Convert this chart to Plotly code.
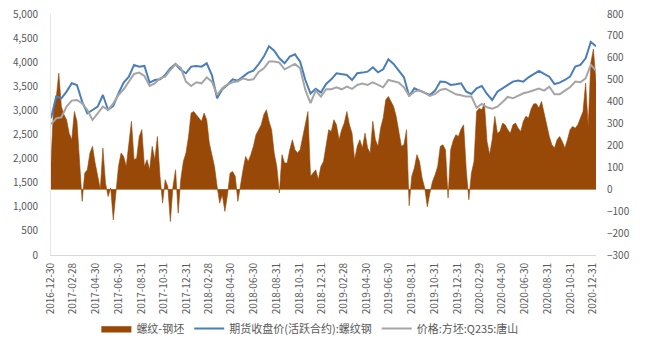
import pandas as pd
import plotly.graph_objects as go

# weekly dates for the spread series (螺纹-钢坯), right axis
spread_dates = pd.date_range("2016-12-30", periods=211, freq="7D")
spread = [
    120, 378, 416, 530, 378, 340, 317, 256, 226, 355, 310, 120, -55, 74, 89, 165, 196, 120, 59, 0,
    188, 28, -33, 6, -140, -17, 104, 165, 150, 104, 211, 310, 135, 142, 241, 272, 104, 135, 89, 196,
    135, 241, 59, -63, 44, 13, -147, 13, 89, -109, 44,
    127, 165, 241, 348, 355, 340, 325, 310, 348, 317, 211, 150, 104, 13, -63, -25, -101, -25, 74, 81,
    59, -55, 28, 89, 150, 127, 158, 196, 249, 272, 294, 340, 363, 310, 272, 165, 104, -17, 158, 120,
    120, 180, 226, 180, 165, 180, 241, 310, 355, 59, 74,
    89, 44, 104, 127, 203, 272, 264, 317, 294, 226, 272, 302, 355, 294, 256, 135, 196, 226, 188, 256,
    188, 165, 310, 226, 196, 279, 325, 409, 424, 401, 378, 333, 272, 196, 203, 272, -75, 59, 97, 158,
    127, 51, 6, -80, -17, 36, 66, 104, 196, 203, 180,
    -40, 180, 223, 249, 241, 275, 294, 89, -48, 74, 127, 355, 370, 363, 393, 218, 158, 226, 333, 256,
    264, 302, 294, 272, 256, 294, 302, 279, 264, 310, 333, 325, 366, 390, 390, 371, 401, 348, 287, 241,
    203, 188, 226, 241, 218, 188, 226, 272, 287, 279, 294, 325, 355, 485, 287, 576, 640, 490,
]

# bi-weekly dates for the two price lines, left axis
line_dates = pd.date_range("2016-12-30", periods=106, freq="14D")
futures = [
    2836, 3286, 3251, 3389, 3562, 3528, 3182, 2940, 3009, 3078, 3320, 3009, 3092, 3355, 3576, 3700,
    3943, 3908, 3922, 3576, 3631, 3645, 3735, 3873, 3963, 3839, 3770, 3908, 3922, 3908, 3977, 3735,
    3251, 3438, 3528, 3645, 3618, 3700, 3784, 3825, 3957, 4116, 4330, 4240, 4081, 3977, 4116, 4164,
    4012, 3631, 3350, 3450, 3369, 3548, 3645, 3770, 3749, 3735, 3631, 3770, 3784, 3804, 3894, 3790,
    3853, 4060, 3963, 3825, 3687, 3299, 3459, 3410, 3369, 3320, 3410, 3597, 3590, 3528, 3541, 3562,
    3389, 3341, 3459, 3507, 3341, 3216, 3389, 3459, 3541, 3597, 3618, 3597, 3687, 3749, 3818, 3756,
    3700, 3548, 3576, 3631, 3700, 3908, 3943, 4081, 4420, 4330,
]
billet = [
    2711, 2836, 2857, 3078, 3203, 3216, 3147, 3009, 2801, 2940, 3078, 3009, 3147, 3320, 3438, 3597,
    3756, 3784, 3714, 3507, 3562, 3666, 3700, 3839, 3957, 3880, 3597, 3507, 3583, 3562, 3687, 3597,
    3320, 3459, 3541, 3583, 3604, 3666, 3631, 3645, 3797, 3873, 4012, 4012, 3991, 3853, 3908, 3963,
    3873, 3424, 3150, 3410, 3286, 3438, 3438, 3479, 3438, 3493, 3445, 3528, 3555, 3528, 3583, 3528,
    3479, 3631, 3597, 3576, 3479, 3299, 3389, 3417, 3369, 3299, 3341, 3424, 3450, 3389, 3334, 3313,
    3286, 3286, 3057, 3133, 3064, 3037, 3078, 3175, 3279, 3251, 3306, 3355, 3382, 3424, 3452, 3410,
    3493, 3334, 3334, 3410, 3479, 3597, 3583, 3666, 3950, 3820,
]

tick_labels = [
    "2016-12-30", "2017-02-28", "2017-04-30", "2017-06-30", "2017-08-31", "2017-10-31", "2017-12-31",
    "2018-02-28", "2018-04-30", "2018-06-30", "2018-08-31", "2018-10-31", "2018-12-31",
    "2019-02-28", "2019-04-30", "2019-06-30", "2019-08-31", "2019-10-31", "2019-12-31",
    "2020-02-29", "2020-04-30", "2020-06-30", "2020-08-31", "2020-10-31", "2020-12-31",
]

names = ["螺纹-钢坯", "期货收盘价(活跃合约):螺纹钢", "价格:方坯:Q235:唐山"]
BROWN = "#984807"
BLUE = "#4a7ebb"
GRAY = "#a5a5a5"
FONT = "Noto Sans CJK SC"

fig = go.Figure()
fig.add_trace(go.Scatter(
    x=spread_dates, y=spread, name=names[0], mode="lines",
    fill="tozeroy", fillcolor=BROWN, line=dict(color=BROWN, width=0.6),
    yaxis="y",
))
fig.add_trace(go.Scatter(
    x=line_dates, y=futures, name=names[1], mode="lines",
    line=dict(color=BLUE, width=2), yaxis="y2",
))
fig.add_trace(go.Scatter(
    x=line_dates, y=billet, name=names[2], mode="lines",
    line=dict(color=GRAY, width=2), yaxis="y2",
))

tickfont = dict(family=FONT, size=10, color="#595959")
fig.update_layout(
    width=645, height=350,
    margin=dict(l=51, r=49, t=14, b=95, autoexpand=False),
    paper_bgcolor="white", plot_bgcolor="white",
    showlegend=True,
    legend=dict(
        orientation="h", x=0.475, xanchor="center", y=-0.245, yanchor="top",
        font=dict(family=FONT, size=11, color="#595959"),
        itemwidth=30, tracegroupgap=0,
    ),
    xaxis=dict(
        type="date", automargin=False,
        range=["2016-12-30", "2021-01-08"],
        tickvals=tick_labels, ticktext=tick_labels,
        tickangle=-90, tickfont=tickfont,
        showgrid=False, zeroline=False,
        showline=True, linecolor="#d9d9d9", linewidth=1,
        ticks="outside", ticklen=3, tickcolor="rgba(0,0,0,0)",
    ),
    yaxis=dict(
        side="right", range=[-300, 800], dtick=100, tickfont=tickfont, automargin=False,
        showgrid=False, zeroline=True, zerolinecolor="#d9a37c", zerolinewidth=1,
        ticks="outside", ticklen=8, tickcolor="rgba(0,0,0,0)",
    ),
    yaxis2=dict(
        side="left", overlaying="y", range=[0, 5000], dtick=500, tickformat=",",
        tickfont=tickfont, showgrid=False, zeroline=False, automargin=False,
        showline=True, linecolor="#e6e6e6", linewidth=1,
        ticks="outside", ticklen=10, tickcolor="rgba(0,0,0,0)",
    ),
)

fig.write_html("out.html")
